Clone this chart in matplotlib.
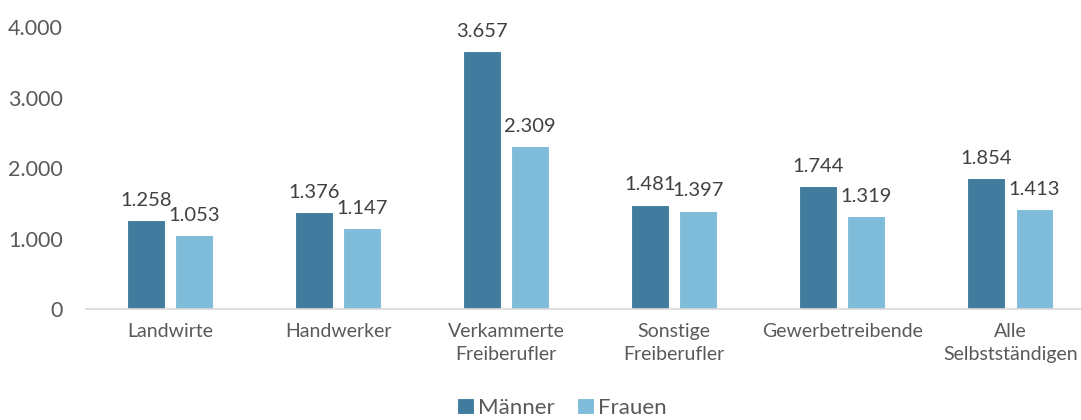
import numpy as np
import matplotlib.pyplot as plt

# Daten
kategorien = ['Landwirte', 'Handwerker', 'Verkammerte\nFreiberufler',
              'Sonstige\nFreiberufler', 'Gewerbetreibende', 'Alle\nSelbstständigen']
maenner = [1258, 1376, 3657, 1481, 1744, 1854]
frauen = [1053, 1147, 2309, 1397, 1319, 1413]
y_ticks = [0, 1000, 2000, 3000, 4000]

def de_format(v):
    return f'{v:,.0f}'.replace(',', '.')

plt.rcParams['font.family'] = ['Lato', 'DejaVu Sans']
grau = '#595959'

fig = plt.figure(figsize=(10.81, 4.2), dpi=100)
ax = fig.add_axes([86 / 1081, 1 - 309 / 420, 1 - 86 / 1081, 282 / 420])

x = np.arange(len(kategorien))
breite = 0.225
off = 0.143
b1 = ax.bar(x - off, maenner, breite, color='#417C9F', edgecolor='white', linewidth=0.8, label='Männer')
b2 = ax.bar(x + off, frauen, breite, color='#7FBCDA', edgecolor='white', linewidth=0.8, label='Frauen')

for bars, werte in ((b1, maenner), (b2, frauen)):
    for b, v in zip(bars, werte):
        ax.annotate(de_format(v), xy=(b.get_x() + b.get_width() / 2, v),
                    xytext=(0, 8), textcoords='offset points',
                    ha='center', va='bottom', fontsize=14.5, color='#404040')

ax.set_xlim(-0.5, 5.42)
ax.set_ylim(0, 4000)
ax.set_yticks(y_ticks)
ax.set_yticklabels([de_format(t) for t in y_ticks])
ax.set_xticks(x)
ax.set_xticklabels(kategorien, linespacing=1.45)

for s in ['top', 'right', 'left']:
    ax.spines[s].set_visible(False)
ax.spines['bottom'].set_color('#D9D9D9')
ax.spines['bottom'].set_linewidth(1.2)
ax.tick_params(axis='y', length=0, pad=16.5, labelsize=15.5, labelcolor=grau)
ax.tick_params(axis='x', length=0, pad=10, labelsize=14, labelcolor=grau)

# Legende unten mittig
fig.legend(loc='center', bbox_to_anchor=(562 / 1081, 1 - 408 / 420), ncol=2, frameon=False,
           fontsize=16, labelcolor=grau, handlelength=0.75, handleheight=0.75,
           handletextpad=0.2, columnspacing=1.0, borderpad=0.1)

plt.savefig('out.png', dpi=100)
